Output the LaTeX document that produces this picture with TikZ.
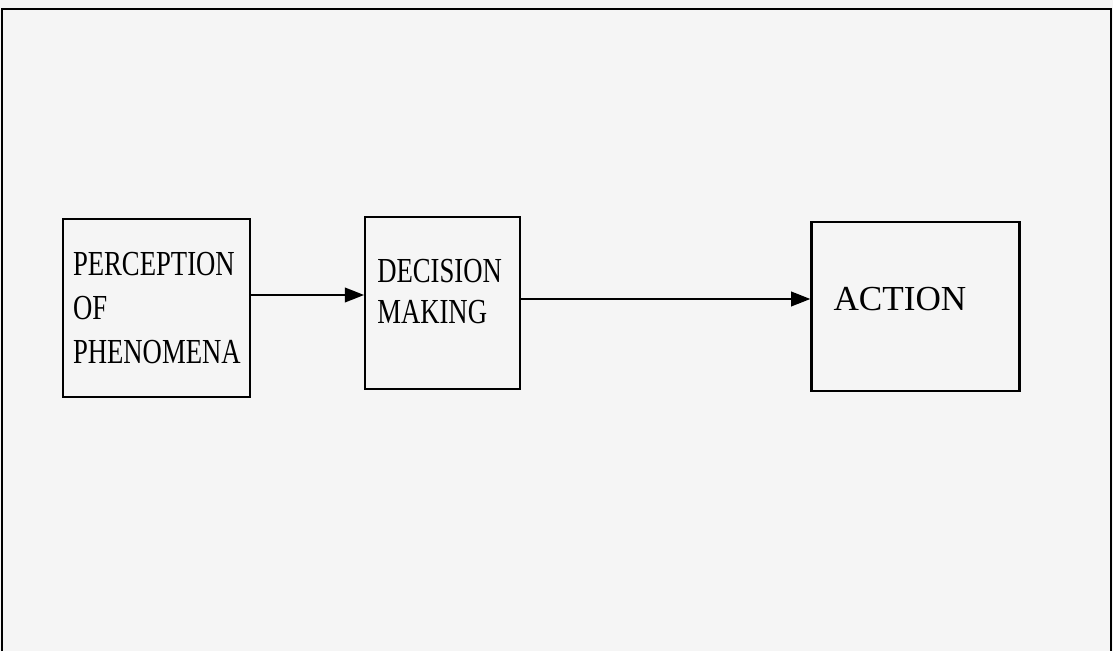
\documentclass[tikz,border=0pt]{standalone}
\usepackage{fontspec}
\setmainfont{Liberation Serif}
\newfontfamily\condfont[FakeStretch=0.76]{Liberation Serif}
\usetikzlibrary{positioning,arrows.meta}

\begin{document}
\begin{tikzpicture}[
	stage/.style={draw, line width=1.6pt, align=left, inner ysep=0pt},
	flow/.style={line width=1.8pt, -{Triangle[length=0.48cm,width=0.36cm]}}]
	\useasboundingbox[fill=black!4] (0,0) rectangle (27.825,16.275);
	\draw[line width=1.6pt] (0.05,0) -- (0.05,16.05) -- (27.775,16.05) -- (27.775,0);

	\node[stage, text width=4.175cm, inner xsep=0.25cm, minimum height=4.45cm,
		font=\condfont\fontsize{25}{31}\selectfont] (perc) at (3.9125,8.575)
		{PERCEPTION\\OF\\PHENOMENA};
	\node[stage, text width=3.275cm, inner xsep=0.3cm, minimum height=4.3cm, text depth=1.6cm,
		font=\condfont\fontsize{25}{29}\selectfont, right=2.825cm of perc, yshift=0.125cm] (dec)
		{DECISION\\MAKING};
	\node[stage, text width=4.1cm, inner xsep=0.55cm, minimum height=4.225cm, text depth=0.4cm,
		font=\fontsize{25}{30}\selectfont, right=7.225cm of dec, yshift=-0.0875cm] (act)
		{ACTION};

	\draw[flow] ([yshift=0.325cm]perc.east) -- ([yshift=0.325cm]perc.east -| dec.west);
	\draw[flow] ([yshift=0.1cm]dec.east) -- ([yshift=0.1cm]dec.east -| act.west);
\end{tikzpicture}
\end{document}
